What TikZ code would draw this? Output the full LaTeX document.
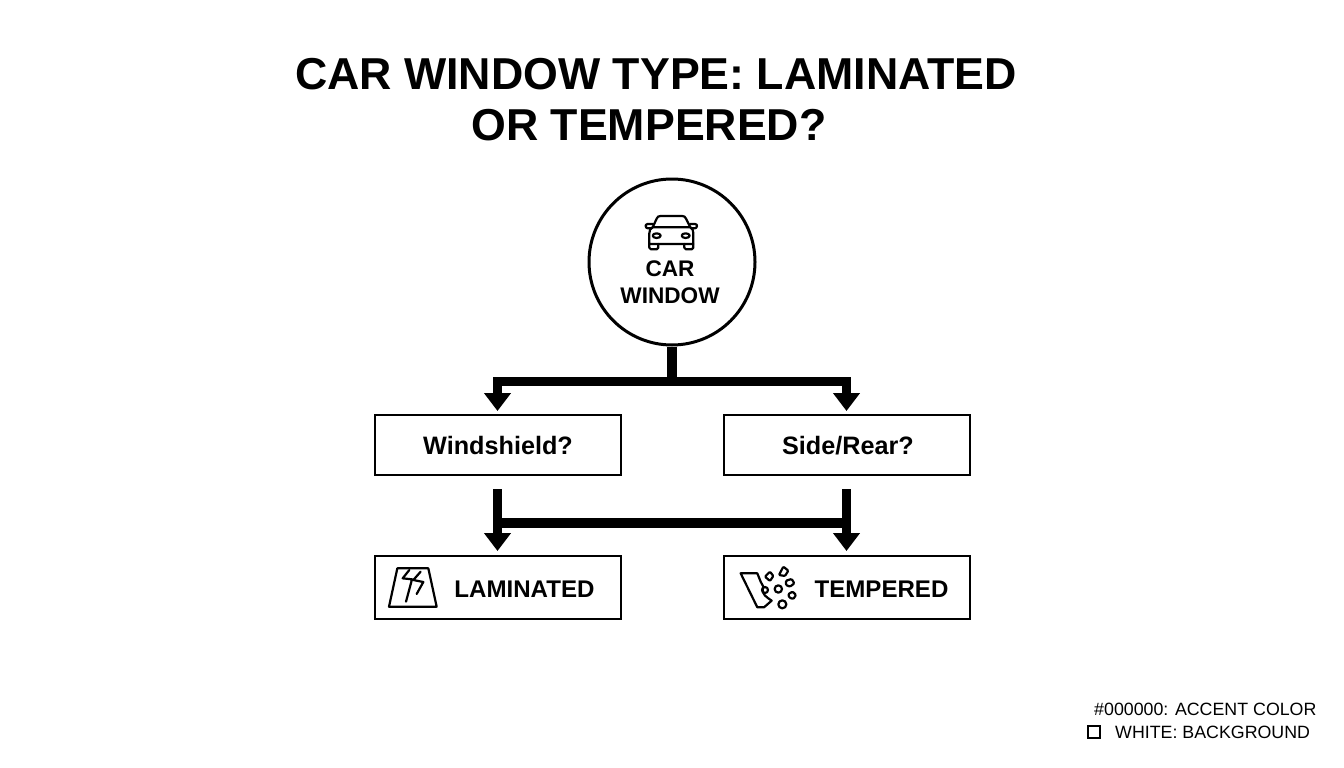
\documentclass[tikz,border=0pt]{standalone}
\usepackage{fontspec}
\setmainfont{Liberation Sans}
\usetikzlibrary{arrows.meta}
\tikzset{
  x=1pt,y=-1pt,
  boxnode/.style={draw=black,line width=2pt,minimum width=246pt,inner sep=0pt,fill=white},
  conn/.style={line width=9.5pt,draw=black,-{Triangle[length=18pt,width=26pt]}},
  bar/.style={line width=9.5pt,draw=black},
  icon/.style={line width=2.2pt,draw=black,line join=round,line cap=round},
  shard/.style={icon,rounded corners=1pt},
  titletext/.style={font=\fontsize{44.7}{51}\bfseries\selectfont,align=center,inner sep=0pt},
  boxtext/.style={font=\fontsize{25.2}{28}\bfseries\selectfont,inner sep=0pt},
  labeltext/.style={font=\fontsize{24.1}{28}\bfseries\selectfont,inner sep=0pt},
  roottext/.style={font=\fontsize{22.6}{26}\bfseries\selectfont,inner sep=0pt},
  legendtext/.style={font=\fontsize{17.8}{22}\selectfont,inner sep=0pt,anchor=base west},
}
\begin{document}
\begin{tikzpicture}
\useasboundingbox (0,0) rectangle (1344,768);
\fill[white] (0,0) rectangle (1344,768);
% title
\node[titletext,anchor=base] (t1) at (656,89) {CAR WINDOW TYPE: LAMINATED};
\node[titletext,anchor=base] (t2) at (649,140) {OR TEMPERED?};
% nodes
\node[circle,draw=black,line width=3pt,minimum size=166pt,inner sep=0pt] (root) at (672,262) {};
\node[roottext,anchor=base] (rt1) at (670,276.5) {CAR};
\node[roottext,anchor=base] (rt2) at (670,303.5) {WINDOW};
\node[boxnode,minimum height=60pt] (win) at (497.5,445) {};
\node[boxnode,minimum height=60pt] (side) at (846.5,445) {};
\node[boxnode,minimum height=63pt] (lam) at (497.5,587.5) {};
\node[boxnode,minimum height=63pt] (temp) at (846.5,587.5) {};
\node[boxtext,anchor=base] (wt) at (498,454) {Windshield?};
\node[boxtext,anchor=base] (st) at (848,454) {Side/Rear?};
\node[labeltext,anchor=base] (lt) at (524.5,597) {LAMINATED};
\node[labeltext,anchor=base] (tt) at (881.5,597) {TEMPERED};
% top connectors
\coordinate (busC) at (672,381.5);
\draw[bar] (root.south) -- (busC);
\draw[conn,shorten >=3pt] (busC) -| (win.north);
\draw[conn,shorten >=3pt] (busC) -| (side.north);
% lower connectors
\draw[conn,shorten <=13pt,shorten >=4pt] (win.south) -- (lam.north);
\draw[conn,shorten <=13pt,shorten >=4pt] (side.south) -- (temp.north);
\coordinate (lowL) at (win.south |- 0,523);
\coordinate (lowR) at (side.south |- 0,523);
\draw[bar] (lowL) -- (lowR);
% car icon
\begin{scope}[shift={(580,170)},x=0.3333pt,y=-0.3333pt]
\draw[icon] (218,172) -- (230,146) .. controls (232,140) and (236,138) .. (242,138) -- (306,138) .. controls (312,138) and (316,140) .. (318,146) -- (331,172);
\draw[icon] (218,172) .. controls (210,176) and (208,182) .. (208,190) -- (208,222) -- (340,222) -- (340,190) .. controls (340,182) and (338,176) .. (331,172) -- cycle;
\draw[icon] (208,222) -- (208,233) .. controls (208,237) and (210,238) .. (213,238) -- (230,238) .. controls (233,238) and (235,237) .. (235,233) -- (235,222);
\draw[icon] (313,222) -- (313,233) .. controls (313,237) and (315,238) .. (318,238) -- (335,238) .. controls (338,238) and (340,237) .. (340,233) -- (340,222);
\draw[icon] (218,162) -- (203,162) .. controls (198,162) and (197,166) .. (197,168) .. controls (197,172) and (200,175) .. (204,175) -- (214,175);
\draw[icon] (331,162) -- (345,162) .. controls (350,162) and (351,166) .. (351,168) .. controls (351,172) and (348,175) .. (344,175) -- (335,175);
\draw[icon] (230,197) ellipse [x radius=12,y radius=7];
\draw[icon] (317,197) ellipse [x radius=12,y radius=7];
\end{scope}
% laminated icon
\begin{scope}[shift={(370,550)},x=0.3333pt,y=-0.3333pt]
\draw[icon] (57,170) -- (82,55) -- (175,55) -- (200,170) -- cycle;
\draw[icon] (118,60) -- (98,85) -- (126,88) -- (108,155);
\draw[icon] (152,65) -- (130,90) -- (160,96) -- (140,132);
\end{scope}
% tempered icon
\begin{scope}[shift={(720,550)},x=0.3333pt,y=-0.3333pt]
\draw[icon] (62,70) -- (112,70) -- (122,95) -- (130,110) .. controls (125,120) and (128,135) .. (145,145) -- (155,152) -- (132,172) -- (112,172) -- cycle;
\draw[shard] (135,80) -- (150,65) -- (160,78) -- (150,93) -- cycle;
\draw[shard] (177,75) -- (190,50) -- (205,62) -- (195,78) -- cycle;
\draw[shard] (198,92) -- (215,87) -- (223,100) -- (210,110) -- (198,105) -- cycle;
\draw[icon] (175,117) circle [radius=11];
\draw[shard] (205,132) -- (218,125) -- (228,135) -- (220,147) -- (208,143) -- cycle;
\draw[icon] (187,163) circle [radius=12];
\draw[icon] (135,120) circle [radius=9];
\end{scope}
% legend
\node[legendtext] (l1) at (1094,715) {\#000000: ACCENT COLOR};
\node[legendtext] (l2) at (1115,738) {WHITE: BACKGROUND};
\node[draw=black,line width=2pt,minimum size=12pt,inner sep=0pt] (sq) at (1093.5,732) {};
\end{tikzpicture}
\end{document}
